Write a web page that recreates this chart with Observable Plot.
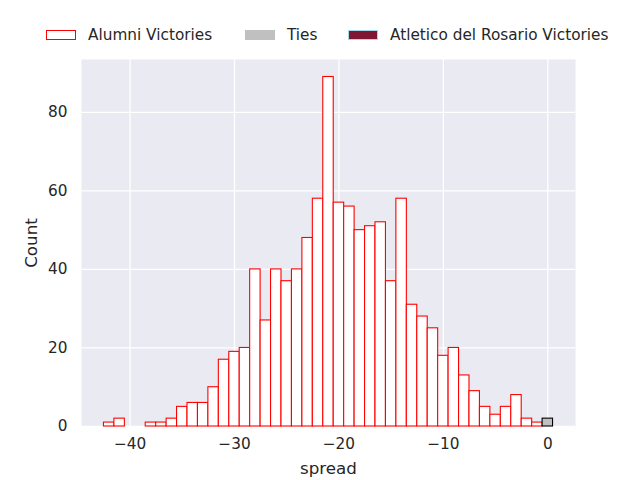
<!DOCTYPE html>
<html>
<head>
<meta charset="utf-8">
<script src="https://cdn.jsdelivr.net/npm/d3@7"></script>
<script src="https://cdn.jsdelivr.net/npm/@observablehq/plot@0.6"></script>
<style>
  body { margin: 0; background: #fff; font-family: "DejaVu Sans", sans-serif; color: #262626; }
  #legend { height: 50px; position: relative; font-size: 15.3px; }
  .item { position: absolute; top: 26px; display: flex; align-items: center; white-space: nowrap; }
  .swatch { width: 30px; height: 10px; box-sizing: border-box; margin-right: 12px; }
</style>
</head>
<body>
<div id="legend"></div>
<div id="chart"></div>
<script>
// spread values (binned by 1) and counts per result
const alumniSpread = [-42, -41, -38, -37, -36, -35, -34, -33, -32, -31, -30, -29, -28, -27, -26, -25, -24, -23, -22, -21,
  -20, -19, -18, -17, -16, -15, -14, -13, -12, -11, -10, -9, -8, -7, -6, -5, -4, -3, -2, -1]
const alumniCounts = [1, 2, 1, 1, 2, 5, 6, 6, 10, 17, 19, 20, 40, 27, 40, 37, 40, 48, 58, 89,
  57, 56, 50, 51, 52, 37, 58, 31, 28, 25, 18, 20, 13, 9, 5, 3, 5, 8, 2, 1]
const tieSpread = [0]
const tieCounts = [2]
const rosarioSpread = []
const rosarioCounts = []

const xTicks = [-40, -30, -20, -10, 0]
const yTicks = [0, 20, 40, 60, 80]

const legendItems = [
  {label: 'Alumni Victories', fill: '#ffffff', stroke: '#ff0000', left: 46},
  {label: 'Ties', fill: '#c0c0c0', stroke: '#c0c0c0', left: 245},
  {label: 'Atletico del Rosario Victories', fill: '#7f1734', stroke: '#a6d8ec', left: 348},
]

const toRows = (xs, ys) => xs.map((x, i) => ({spread: x, count: ys[i]}))
const alumni = toRows(alumniSpread, alumniCounts)
const ties = toRows(tieSpread, tieCounts)
const rosario = toRows(rosarioSpread, rosarioCounts)

const legend = d3.select('#legend')
legendItems.forEach(d => {
  const item = legend.append('div').attr('class', 'item').style('left', d.left + 'px')
  item.append('div').attr('class', 'swatch')
    .style('background', d.fill)
    .style('border', `1.5px solid ${d.stroke}`)
  item.append('span').text(d.label)
})

const bars = (data, fill, stroke) => Plot.rectY(data, {
  x1: d => d.spread - 0.5,
  x2: d => d.spread + 0.5,
  y1: 0,
  y2: 'count',
  fill: fill,
  stroke: stroke,
  strokeWidth: 1.1,
})

const chart = Plot.plot({
  width: 640,
  height: 430,
  marginLeft: 81,
  marginRight: 65,
  marginTop: 9,
  marginBottom: 54,
  style: {fontFamily: 'DejaVu Sans', fontSize: '15.3px', color: '#262626', background: '#ffffff'},
  x: {domain: [-44.65, 2.65]},
  y: {domain: [0, 93.45]},
  marks: [
    Plot.frame({fill: '#eaeaf2', stroke: null}),
    Plot.gridX(xTicks, {stroke: '#ffffff', strokeOpacity: 1, strokeWidth: 1.3}),
    Plot.gridY(yTicks, {stroke: '#ffffff', strokeOpacity: 1, strokeWidth: 1.3}),
    bars(alumni, '#ffffff', '#ff0000'),
    bars(ties, '#c0c0c0', '#000000'),
    bars(rosario, '#7f1734', '#a6d8ec'),
    Plot.axisX(xTicks, {tickSize: 0, tickPadding: 12, fontSize: 15.3, label: null}),
    Plot.axisY(yTicks, {tickSize: 0, tickPadding: 14, fontSize: 15.3, label: null}),
    Plot.axisX({ticks: [], tickSize: 0, fontSize: 16.7, label: 'spread', labelAnchor: 'center', labelArrow: 'none', labelOffset: 47}),
    Plot.axisY({ticks: [], tickSize: 0, fontSize: 16.7, label: 'Count', labelAnchor: 'center', labelArrow: 'none', labelOffset: 56}),
  ],
})

d3.select('#chart').append(() => chart)
</script>
</body>
</html>
